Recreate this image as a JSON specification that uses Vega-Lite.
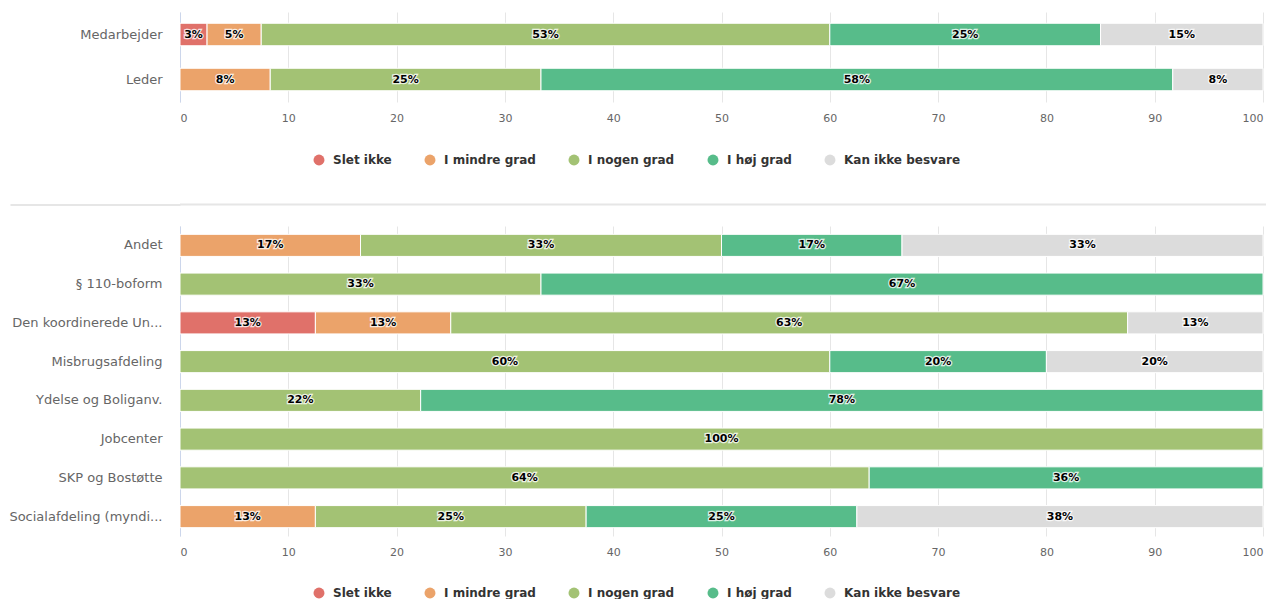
{
  "$schema": "https://vega.github.io/schema/vega-lite/v6.json",
  "padding": {"left": 8, "top": 12, "right": 0, "bottom": 0},
  "background": "white",
  "config": {
    "view": {"stroke": null},
    "font": "DejaVu Sans",
    "axis": {"labelFont": "DejaVu Sans", "labelFontSize": 11, "labelColor": "#666666", "title": null},
    "legend": {"labelFont": "DejaVu Sans", "labelFontSize": 12, "labelFontWeight": "bold", "labelColor": "#333333", "symbolType": "circle", "symbolSize": 120, "symbolStrokeWidth": 0, "title": null, "columnPadding": 32, "labelOffset": 8}
  },
  "spacing": 20.5,
  "resolve": {"scale": {"color": "independent", "x": "independent", "y": "independent"}, "legend": {"color": "independent"}},
  "datasets": {
    "top": [
      {"grp": "Medarbejder", "svar": "Slet ikke", "rank": 1, "pct": 2.5, "label": "3%"},
      {"grp": "Medarbejder", "svar": "I mindre grad", "rank": 2, "pct": 5, "label": "5%"},
      {"grp": "Medarbejder", "svar": "I nogen grad", "rank": 3, "pct": 52.5, "label": "53%"},
      {"grp": "Medarbejder", "svar": "I høj grad", "rank": 4, "pct": 25, "label": "25%"},
      {"grp": "Medarbejder", "svar": "Kan ikke besvare", "rank": 5, "pct": 15, "label": "15%"},
      {"grp": "Leder", "svar": "I mindre grad", "rank": 2, "pct": 8.333, "label": "8%"},
      {"grp": "Leder", "svar": "I nogen grad", "rank": 3, "pct": 25, "label": "25%"},
      {"grp": "Leder", "svar": "I høj grad", "rank": 4, "pct": 58.334, "label": "58%"},
      {"grp": "Leder", "svar": "Kan ikke besvare", "rank": 5, "pct": 8.333, "label": "8%"}
    ],
    "bottom": [
      {"grp": "Andet", "svar": "I mindre grad", "rank": 2, "pct": 16.667, "label": "17%"},
      {"grp": "Andet", "svar": "I nogen grad", "rank": 3, "pct": 33.333, "label": "33%"},
      {"grp": "Andet", "svar": "I høj grad", "rank": 4, "pct": 16.667, "label": "17%"},
      {"grp": "Andet", "svar": "Kan ikke besvare", "rank": 5, "pct": 33.333, "label": "33%"},
      {"grp": "§ 110-boform", "svar": "I nogen grad", "rank": 3, "pct": 33.333, "label": "33%"},
      {"grp": "§ 110-boform", "svar": "I høj grad", "rank": 4, "pct": 66.667, "label": "67%"},
      {"grp": "Den koordinerede Un...", "svar": "Slet ikke", "rank": 1, "pct": 12.5, "label": "13%"},
      {"grp": "Den koordinerede Un...", "svar": "I mindre grad", "rank": 2, "pct": 12.5, "label": "13%"},
      {"grp": "Den koordinerede Un...", "svar": "I nogen grad", "rank": 3, "pct": 62.5, "label": "63%"},
      {"grp": "Den koordinerede Un...", "svar": "Kan ikke besvare", "rank": 5, "pct": 12.5, "label": "13%"},
      {"grp": "Misbrugsafdeling", "svar": "I nogen grad", "rank": 3, "pct": 60, "label": "60%"},
      {"grp": "Misbrugsafdeling", "svar": "I høj grad", "rank": 4, "pct": 20, "label": "20%"},
      {"grp": "Misbrugsafdeling", "svar": "Kan ikke besvare", "rank": 5, "pct": 20, "label": "20%"},
      {"grp": "Ydelse og Boliganv.", "svar": "I nogen grad", "rank": 3, "pct": 22.222, "label": "22%"},
      {"grp": "Ydelse og Boliganv.", "svar": "I høj grad", "rank": 4, "pct": 77.778, "label": "78%"},
      {"grp": "Jobcenter", "svar": "I nogen grad", "rank": 3, "pct": 100, "label": "100%"},
      {"grp": "SKP og Bostøtte", "svar": "I nogen grad", "rank": 3, "pct": 63.636, "label": "64%"},
      {"grp": "SKP og Bostøtte", "svar": "I høj grad", "rank": 4, "pct": 36.364, "label": "36%"},
      {"grp": "Socialafdeling (myndi...", "svar": "I mindre grad", "rank": 2, "pct": 12.5, "label": "13%"},
      {"grp": "Socialafdeling (myndi...", "svar": "I nogen grad", "rank": 3, "pct": 25, "label": "25%"},
      {"grp": "Socialafdeling (myndi...", "svar": "I høj grad", "rank": 4, "pct": 25, "label": "25%"},
      {"grp": "Socialafdeling (myndi...", "svar": "Kan ikke besvare", "rank": 5, "pct": 37.5, "label": "38%"}
    ]
  },
  "vconcat": [
    {
      "width": 1083,
      "height": 90,
      "data": {"name": "top"},
      "encoding": {
        "y": {"field": "grp", "type": "nominal", "sort": ["Medarbejder", "Leder"], "scale": {"paddingInner": 0.5, "paddingOuter": 0.25},
          "axis": {"ticks": false, "labelPadding": 18, "domainColor": "#ccd6eb", "labelFontSize": 13, "grid": false, "minExtent": 172, "maxExtent": 172}},
        "x": {"field": "pct", "type": "quantitative", "stack": "zero", "scale": {"domain": [0, 100], "nice": false},
          "axis": {"values": [0, 10, 20, 30, 40, 50, 60, 70, 80, 90, 100], "grid": true, "gridColor": "#e6e6e6", "domain": false, "ticks": false, "labelPadding": 10, "labelFlush": true}},
        "order": {"field": "rank", "type": "quantitative", "sort": "ascending"}
      },
      "layer": [
        {
          "mark": {"type": "bar", "stroke": "white", "strokeWidth": 1},
          "encoding": {
            "color": {"field": "svar", "type": "nominal",
              "sort": ["Slet ikke", "I mindre grad", "I nogen grad", "I høj grad", "Kan ikke besvare"],
              "scale": {"domain": ["Slet ikke", "I mindre grad", "I nogen grad", "I høj grad", "Kan ikke besvare"], "range": ["#e0716a", "#eba36a", "#a3c274", "#57bc8a", "#dcdcdc"]},
              "legend": {"orient": "none", "direction": "horizontal", "legendX": 116, "legendY": 125, "padding": 17}}
          }
        },
        {
          "mark": {"type": "text", "fontSize": 11, "fontWeight": "bold", "stroke": "white", "strokeWidth": 2.5, "strokeOpacity": 0.8, "fill": "white"},
          "encoding": {"text": {"field": "label"}, "x": {"field": "pct", "type": "quantitative", "stack": "zero", "bandPosition": 0.5}}
        },
        {
          "mark": {"type": "text", "fontSize": 11, "fontWeight": "bold", "color": "black"},
          "encoding": {"text": {"field": "label"}, "x": {"field": "pct", "type": "quantitative", "stack": "zero", "bandPosition": 0.5}}
        }
      ]
    },
    {
      "width": 1086,
      "height": 2,
      "data": {"values": [{"part": "separator"}]},
      "mark": {"type": "rect", "color": "#e6e6e6"},
      "encoding": {
        "y": {"field": "part", "type": "nominal", "scale": {"paddingInner": 0, "paddingOuter": 0},
          "axis": {"labels": false, "domain": false, "grid": false, "ticks": true, "tickSize": 170, "tickWidth": 2, "tickColor": "#e6e6e6", "labelPadding": 0, "minExtent": 170, "maxExtent": 170}}
      }
    },
    {
      "width": 1083,
      "height": 310,
      "data": {"name": "bottom"},
      "encoding": {
        "y": {"field": "grp", "type": "nominal", "sort": ["Andet", "§ 110-boform", "Den koordinerede Un...", "Misbrugsafdeling", "Ydelse og Boliganv.", "Jobcenter", "SKP og Bostøtte", "Socialafdeling (myndi..."], "scale": {"paddingInner": 0.43, "paddingOuter": 0.215},
          "axis": {"ticks": false, "labelPadding": 18, "domainColor": "#ccd6eb", "labelFontSize": 13, "grid": false, "minExtent": 172, "maxExtent": 172}},
        "x": {"field": "pct", "type": "quantitative", "stack": "zero", "scale": {"domain": [0, 100], "nice": false},
          "axis": {"values": [0, 10, 20, 30, 40, 50, 60, 70, 80, 90, 100], "grid": true, "gridColor": "#e6e6e6", "domain": false, "ticks": false, "labelPadding": 10, "labelFlush": true}},
        "order": {"field": "rank", "type": "quantitative", "sort": "ascending"}
      },
      "layer": [
        {
          "mark": {"type": "bar", "stroke": "white", "strokeWidth": 1},
          "encoding": {
            "color": {"field": "svar", "type": "nominal",
              "sort": ["Slet ikke", "I mindre grad", "I nogen grad", "I høj grad", "Kan ikke besvare"],
              "scale": {"domain": ["Slet ikke", "I mindre grad", "I nogen grad", "I høj grad", "Kan ikke besvare"], "range": ["#e0716a", "#eba36a", "#a3c274", "#57bc8a", "#dcdcdc"]},
              "legend": {"orient": "none", "direction": "horizontal", "legendX": 133, "legendY": 361}}
          }
        },
        {
          "mark": {"type": "text", "fontSize": 11, "fontWeight": "bold", "stroke": "white", "strokeWidth": 2.5, "strokeOpacity": 0.8, "fill": "white"},
          "encoding": {"text": {"field": "label"}, "x": {"field": "pct", "type": "quantitative", "stack": "zero", "bandPosition": 0.5}}
        },
        {
          "mark": {"type": "text", "fontSize": 11, "fontWeight": "bold", "color": "black"},
          "encoding": {"text": {"field": "label"}, "x": {"field": "pct", "type": "quantitative", "stack": "zero", "bandPosition": 0.5}}
        }
      ]
    }
  ]
}
